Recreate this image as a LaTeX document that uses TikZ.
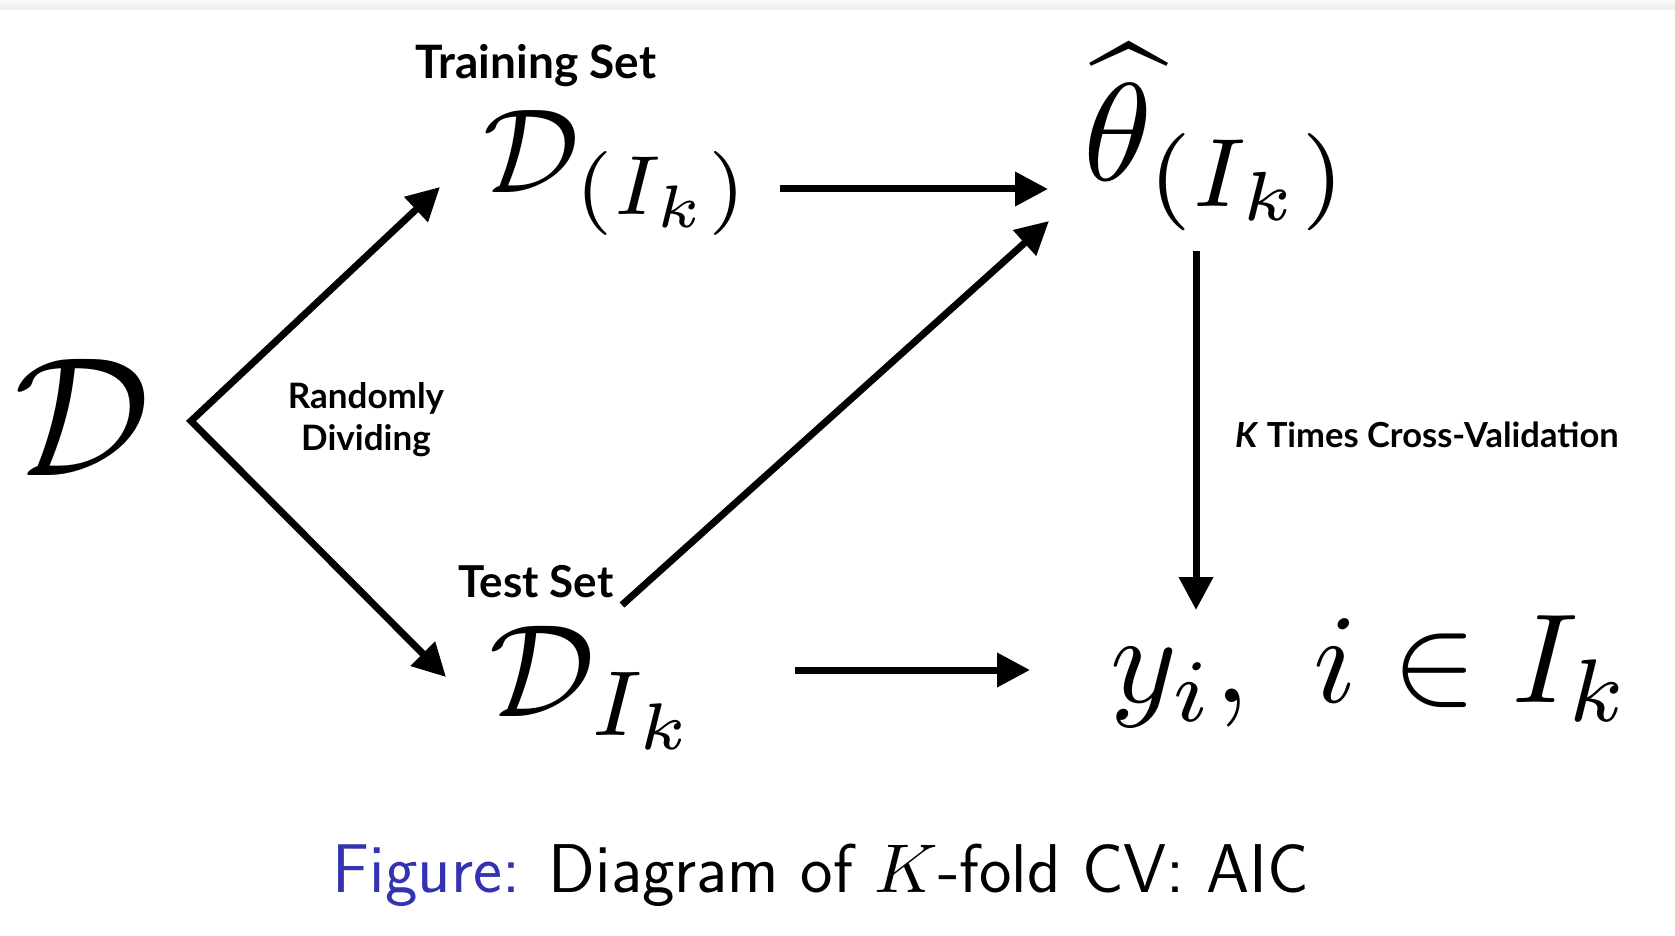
\documentclass[tikz,border=0pt]{standalone}
\usepackage{fontspec}
\usepackage{graphicx}
\usetikzlibrary{arrows.meta}
\newfontfamily\labfont{Lato}
\definecolor{beamerblue}{rgb}{0.2,0.2,0.7}
\tikzset{
  mathnode/.style={inner sep=0pt, outer sep=0pt, anchor=base west},
  labnode/.style={inner sep=0pt, outer sep=0pt, anchor=base, font=\labfont\bfseries},
  bigarrow/.style={line width=7pt, -{Triangle[length=33pt,width=33pt]}},
  twoarrow/.style={line width=7pt, miter limit=10,
    {Triangle[length=33pt,width=33pt]}-{Triangle[length=33pt,width=33pt]}}
}
\begin{document}
\begin{tikzpicture}[x=1pt,y=-1pt]
\useasboundingbox (0,0) rectangle (1675,936);
\fill[white] (0,0) rectangle (1675,936);
\shade[top color=gray!4, bottom color=gray!14] (0,0) rectangle (1675,10);

% math nodes
\node[mathnode] (D) at (14,475) {\scalebox{17}{$\mathcal{D}$}};
\node[mathnode] (Dtr) at (483,193) {\scalebox{12}{$\mathcal{D}_{(I_k)}$}};
\node[mathnode] (theta) at (1083,181) {\scalebox{13.9}{$\widehat{\theta}_{(I_k)}$}};
\node[mathnode] (Dte) at (489,716) {\scalebox{13.2}{$\mathcal{D}_{I_k}$}};
\node[mathnode] (y) at (1110,702) {\scalebox{12.7}{$y_i,\ i\in I_k$}};

% labels
\node[labnode, font=\labfont\bfseries\fontsize{46}{46}\selectfont] (trl) at (536,79) {Training Set};
\node[labnode, font=\labfont\bfseries\fontsize{44}{44}\selectfont] (tel) at (536,597) {Test Set};
\node[labnode, font=\labfont\bfseries\fontsize{35}{35}\selectfont] (rl1) at (366,408) {Randomly};
\node[labnode, font=\labfont\bfseries\fontsize{35}{35}\selectfont] (rl2) at (366,450) {Dividing};
\node[labnode, font=\labfont\bfseries\fontsize{34.5}{34.5}\selectfont, anchor=base west] (kl) at (1235,447) {\textit{K} Times Cross-Validation};

% caption
\node[inner sep=0pt, anchor=base] (cap) at (821,892)
  {\fontsize{69}{80}\selectfont\sffamily\textcolor{beamerblue}{Figure:} Diagram of \scalebox{6.9}{\fontsize{10}{12}\selectfont$K$}-fold CV: AIC};

% arrow end points
\coordinate (V) at (191,421);
\coordinate (Vup) at (440,187);
\coordinate (Vdn) at (446,677);
\coordinate (a1s) at (780,189);
\coordinate (a1e) at (1048,189);
\coordinate (a2s) at (622,605);
\coordinate (a2e) at (1049,221);
\coordinate (a3s) at (1196,251);
\coordinate (a3e) at (1196,610);
\coordinate (a4s) at (795,670);
\coordinate (a4e) at (1030,670);

\draw[twoarrow] (Vup) -- (V) -- (Vdn);
\draw[bigarrow] (a1s) -- (a1e);
\draw[bigarrow] (a2s) -- (a2e);
\draw[bigarrow] (a3s) -- (a3e);
\draw[bigarrow] (a4s) -- (a4e);
\end{tikzpicture}
\end{document}
